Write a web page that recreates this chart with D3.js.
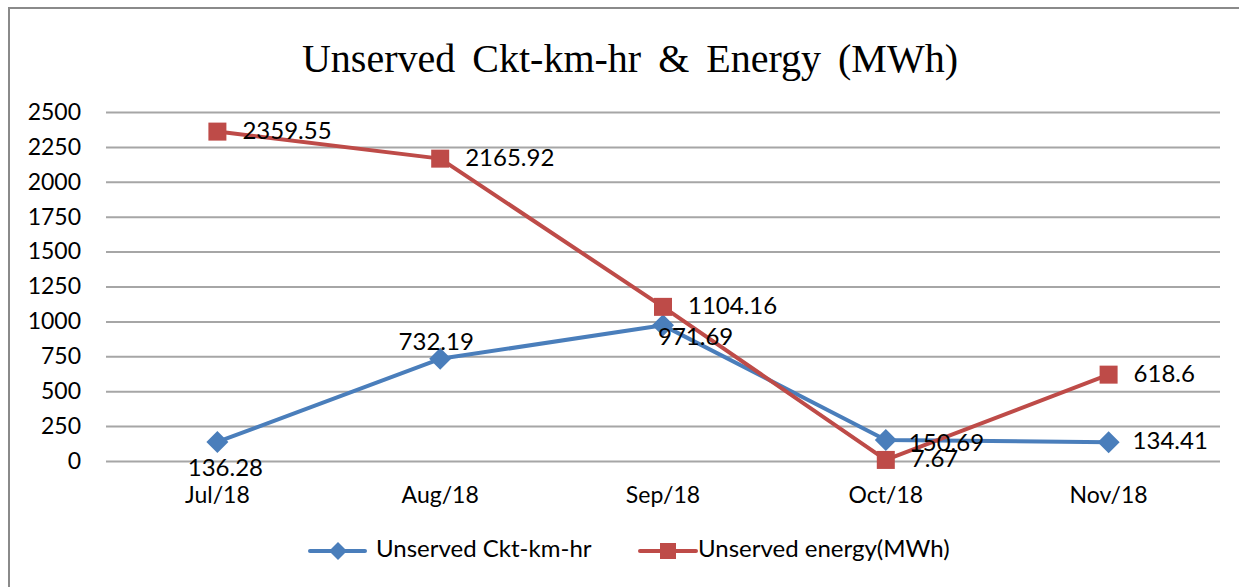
<!DOCTYPE html>
<html>
<head>
<meta charset="utf-8">
<script src="https://cdn.jsdelivr.net/npm/d3@7"></script>
<style>
  body { margin: 0; background: #fff; }
  svg text { font-family: Lato, "Open Sans", sans-serif; fill: #000; }
</style>
</head>
<body>
<div id="chart"></div>
<script>
// chart data
const categories = ["Jul/18", "Aug/18", "Sep/18", "Oct/18", "Nov/18"];
const cktKmHr = [136.28, 732.19, 971.69, 150.69, 134.41];
const energyMWh = [2359.55, 2165.92, 1104.16, 7.67, 618.6];
const yTicks = [0, 250, 500, 750, 1000, 1250, 1500, 1750, 2000, 2250, 2500];
const seriesNames = ["Unserved Ckt-km-hr", "Unserved energy(MWh)"];

const width = 1239;
const height = 587;
const blue = "#4A7EBB";
const red = "#BE4B48";

const svg = d3.select("#chart").append("svg")
  .attr("width", width)
  .attr("height", height);

// outer chart border (runs off the right and bottom edge like the source)
svg.append("rect")
  .attr("x", 9).attr("y", 8)
  .attr("width", width + 20).attr("height", height + 20)
  .attr("fill", "none")
  .attr("stroke", "#8a8a8a")
  .attr("stroke-width", 2);

svg.append("text")
  .attr("x", 630).attr("y", 72)
  .attr("text-anchor", "middle")
  .style("font-family", "'Liberation Serif', 'Times New Roman', serif")
  .style("font-size", "40px")
  .style("word-spacing", "7px")
  .text("Unserved Ckt-km-hr & Energy (MWh)");

const x = d3.scaleBand().domain(categories).range([106, 1220]);
const y = d3.scaleLinear().domain([0, 2500]).range([461, 112]);
const cx = d => x(d) + x.bandwidth() / 2;

// gridlines + y labels
const yAxis = svg.append("g")
  .attr("transform", "translate(106,0)")
  .call(d3.axisLeft(y).tickValues(yTicks).tickFormat(d3.format("d"))
    .tickSize(-(1220 - 106)).tickPadding(25));
yAxis.select(".domain").remove();
yAxis.selectAll(".tick line").attr("stroke", "#a6a6a6").attr("stroke-width", 2);
yAxis.selectAll(".tick text").style("font-size", "23px").attr("fill", "#000");

// x labels
svg.append("g").selectAll("text")
  .data(categories)
  .join("text")
  .attr("x", d => cx(d))
  .attr("y", 497)
  .attr("text-anchor", "middle")
  .attr("dominant-baseline", "middle")
  .style("font-size", "23px")
  .text(d => d);

const line = d3.line()
  .x((d, i) => cx(categories[i]))
  .y(d => y(d));

svg.append("path").datum(cktKmHr)
  .attr("d", line).attr("fill", "none")
  .attr("stroke", blue).attr("stroke-width", 4).attr("stroke-linejoin", "round");

svg.append("g").selectAll("path")
  .data(cktKmHr)
  .join("path")
  .attr("transform", (d, i) => `translate(${cx(categories[i])},${y(d)})`)
  .attr("d", "M0,-11L11,0L0,11L-11,0Z")
  .attr("fill", blue);

svg.append("path").datum(energyMWh)
  .attr("d", line).attr("fill", "none")
  .attr("stroke", red).attr("stroke-width", 4).attr("stroke-linejoin", "round");

svg.append("g").selectAll("rect")
  .data(energyMWh)
  .join("rect")
  .attr("x", (d, i) => cx(categories[i]) - 9)
  .attr("y", d => y(d) - 9)
  .attr("width", 18).attr("height", 18)
  .attr("fill", red);

// data labels; the blue ones were nudged around in the source
const blueLabelPos = [
  { dx: 8, dy: 28, anchor: "middle" },
  { dx: -4, dy: -15, anchor: "middle" },
  { dx: -5, dy: 14, anchor: "start" },
  { dx: 23, dy: 5, anchor: "start" },
  { dx: 24, dy: 1, anchor: "start" }
];

svg.append("g").selectAll("text")
  .data(cktKmHr)
  .join("text")
  .attr("x", (d, i) => cx(categories[i]) + blueLabelPos[i].dx)
  .attr("y", (d, i) => y(d) + blueLabelPos[i].dy)
  .attr("text-anchor", (d, i) => blueLabelPos[i].anchor)
  .attr("dominant-baseline", "middle")
  .style("font-size", "24px")
  .text(d => d);

svg.append("g").selectAll("text")
  .data(energyMWh)
  .join("text")
  .attr("x", (d, i) => cx(categories[i]) + 25)
  .attr("y", d => y(d) + 1)
  .attr("dominant-baseline", "middle")
  .style("font-size", "24px")
  .text(d => d);

// legend
const legend = svg.append("g").attr("transform", "translate(0,551)");
const lg1 = legend.append("g").attr("transform", "translate(310,0)");
lg1.append("line").attr("x1", 0).attr("x2", 55)
  .attr("stroke", blue).attr("stroke-width", 4).attr("stroke-linecap", "round");
lg1.append("path").attr("d", "M28,-9L37,0L28,9L19,0Z").attr("fill", blue);
lg1.append("text").attr("x", 66).attr("dominant-baseline", "middle")
  .style("font-size", "24px").text(seriesNames[0]);

const lg2 = legend.append("g").attr("transform", "translate(640,0)");
lg2.append("line").attr("x1", 0).attr("x2", 56)
  .attr("stroke", red).attr("stroke-width", 4).attr("stroke-linecap", "round");
lg2.append("rect").attr("x", 20).attr("y", -8).attr("width", 16).attr("height", 16).attr("fill", red);
lg2.append("text").attr("x", 58).attr("dominant-baseline", "middle")
  .style("font-size", "24px").text(seriesNames[1]);
</script>
</body>
</html>
